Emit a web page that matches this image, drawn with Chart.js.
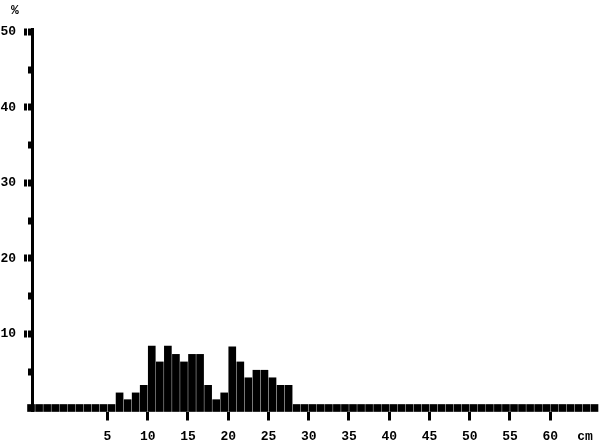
<!DOCTYPE html>
<html>
<head>
<meta charset="utf-8">
<script src="https://cdn.jsdelivr.net/npm/chart.js@4/dist/chart.umd.min.js"></script>
<style>
   body { margin: 0; background: #fff; }
   #wrap { width: 599px; height: 447px; }
</style>
</head>
<body>
<div id="wrap"><canvas id="canvas" width="599" height="447"></canvas></div>
<script>
// lower edge of each 1 cm bin
var bins = [-5, -4, -3, -2, -1, 0, 1, 2, 3, 4, 5, 6, 7, 8, 9, 10, 11, 12, 13, 14, 15,
   16, 17, 18, 19, 20, 21, 22, 23, 24, 25, 26, 27, 28, 29, 30, 31, 32, 33, 34, 35,
   36, 37, 38, 39, 40, 41, 42, 43, 44, 45, 46, 47, 48, 49, 50, 51, 52, 53, 54, 55,
   56, 57, 58, 59, 60, 61, 62, 63, 64, 65];
// percentage in each bin
var percent = [0, 0, 0, 0, 0, 0, 0, 0, 0, 0, 0, 2.2, 1.3, 2.2, 3.2, 8.4, 6.3, 8.4, 7.3, 6.3, 7.3,
   7.3, 3.2, 1.3, 2.2, 8.3, 6.3, 4.2, 5.2, 5.2, 4.2, 3.2, 3.2, 0, 0, 0, 0, 0, 0, 0, 0,
   0, 0, 0, 0, 0, 0, 0, 0, 0, 0, 0, 0, 0, 0, 0, 0, 0, 0, 0, 0,
   0, 0, 0, 0, 0, 0, 0, 0, 0, 0];
var xTicks = [5, 10, 15, 20, 25, 30, 35, 40, 45, 50, 55, 60];
var yTicks = [5, 10, 15, 20, 25, 30, 35, 40, 45, 50];

Chart.defaults.font.family = "'Liberation Mono', monospace";
Chart.defaults.font.weight = 'bold';
Chart.defaults.font.size = 13;
Chart.defaults.color = '#000';

// y tick blocks, long for tens, short for fives
var yTickMarks = {
   id: 'yTickMarks',
   afterDraw: function(chart) {
      var ctx = chart.ctx;
      var y = chart.scales.y;
      ctx.save();
      ctx.fillStyle = '#000';
      yTicks.forEach(function(v) {
         var py = Math.round(y.getPixelForValue(v)) - 3.5;
         if (v % 10 === 0) {
            ctx.fillRect(24, py, 3, 7);
            ctx.fillRect(28, py, 5, 7);
         } else {
            ctx.fillRect(28, py, 4, 7);
         }
      });
      ctx.textAlign = 'center';
      ctx.textBaseline = 'middle';
      ctx.font = "bold 13px 'Liberation Mono'";
      ctx.fillText('%', 15, 11);
      ctx.fillText('cm', 585, 437);
      ctx.restore();
   }
};

var points = bins.map(function(b, i) { return {x: b + 0.5, y: percent[i]}; });

var config = {
   type: 'bar',
   data: {
      datasets: [{
         data: points,
         backgroundColor: '#000',
         borderWidth: 0,
         barThickness: 7,
         minBarLength: 7,
         base: -0.265,
         clip: false
      }]
   },
   options: {
      responsive: false,
      animation: false,
      layout: { padding: { top: 29.7, left: 0, right: 0, bottom: 0 } },
      plugins: {
         legend: { display: false },
         tooltip: { enabled: false }
      },
      scales: {
         x: {
            type: 'linear',
            offset: false,
            min: -4.317,
            max: 66.06,
            afterBuildTicks: function(s) { s.ticks = xTicks.map(function(v) { return {value: v}; }); },
            afterFit: function(s) { s.height = 35.5; },
            ticks: { padding: 8, maxRotation: 0, autoSkip: false },
            grid: { offset: false, drawOnChartArea: false, drawTicks: true, tickLength: 9, lineWidth: 3, color: '#000' },
            border: { display: false }
         },
         y: {
            min: -0.265,
            max: 50.3,
            afterBuildTicks: function(s) { s.ticks = yTicks.map(function(v) { return {value: v}; }); },
            afterFit: function(s) { s.width = 32.5; },
            ticks: {
               padding: 16.5,
               callback: function(v) { return v % 10 === 0 ? v : ''; }
            },
            grid: { drawOnChartArea: false, drawTicks: false },
            border: { display: true, color: '#000', width: 3 }
         }
      }
   },
   plugins: [yTickMarks]
};

window.histChart = new Chart(document.getElementById('canvas'), config);
</script>
</body>
</html>
